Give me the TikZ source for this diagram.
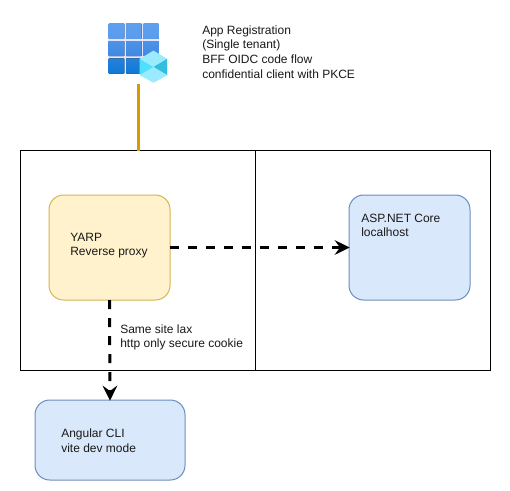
\documentclass[tikz,border=0pt]{standalone}
\usepackage{fontspec}
\setmainfont{Liberation Sans}
\usetikzlibrary{arrows.meta}
\definecolor{bluefill}{HTML}{DAE8FC}
\definecolor{blueline}{HTML}{6C8EBF}
\definecolor{yellowfill}{HTML}{FFF2CC}
\definecolor{yellowline}{HTML}{D6B656}
\definecolor{orangeline}{HTML}{D79B00}
\tikzset{
  x=0.75pt,y=-0.75pt,
  frame/.style={draw=black,line width=0.75pt,minimum width=176.25pt,minimum height=165pt,inner sep=0pt,outer sep=0pt},
  bluebox/.style={draw=blueline,fill=bluefill,line width=0.75pt,rounded corners=11pt,inner sep=0pt,outer sep=0pt},
  yellowbox/.style={draw=yellowline,fill=yellowfill,line width=0.75pt,rounded corners=11pt,inner sep=0pt,outer sep=0pt},
  label/.style={font=\fontsize{9}{11}\selectfont,align=left,anchor=west,inner sep=0pt,text=black!90},
  flow/.style={draw=black,line width=2.25pt,dash pattern=on 6.75pt off 6.75pt,-{Stealth[length=11.25pt,width=11pt,inset=4pt,sep=0pt]},shorten >=-0.5pt},
  tile/.style={rounded corners=0.4pt}
}
\begin{document}
\begin{tikzpicture}
\useasboundingbox (0,0) rectangle (510,490);
\fill[white] (0,0) rectangle (510,490);
% icon
\fill[blue!10,rounded corners=2pt] (108,23) rectangle (158.5,73.5);
\foreach \r/\ct/\cb in {0/5EA0EF/5A9CEB,1/4D93E8/3F89E2,2/2481DD/0F78D4}{
  \definecolor{ct}{HTML}{\ct}\definecolor{cb}{HTML}{\cb}
  \foreach \c in {0,1,2}{
    \fill[tile,top color=ct,bottom color=cb] ({108.7+17.3*\c},{23.7+17.3*\r}) rectangle ({108.7+17.3*\c+15.6},{23.7+17.3*\r+15.2});
  }
}
\fill[white,opacity=.6] (153.5,50.5) -- (167.5,59) -- (167.5,75) -- (153.5,83) -- (139.5,75) -- (139.5,59) -- cycle;
\fill[color={rgb,255:red,80;green,224;blue,255}] (153.5,51) -- (167,59) -- (167,75) -- (153.5,82.5) -- (140,75) -- (140,59) -- cycle;
\fill[color={rgb,255:red,155;green,235;blue,255}] (153.5,51) -- (167,59) -- (153.5,67) -- (140,59) -- cycle;
\fill[color={rgb,255:red,50;green,190;blue,221}] (167,59) -- (167,75) -- (153.5,67) -- cycle;
\fill[color={rgb,255:red,155;green,235;blue,255}] (153.5,67) -- (167,75) -- (153.5,82.5) -- (140,75) -- cycle;
\coordinate (iconfoot) at (138,84);
% frames
\node[frame] (left) at (138,260.7) {};
\node[frame] (right) at (373,260.7) {};
\draw[orangeline,line width=2.25pt] (iconfoot) -- (left.north -| iconfoot);
% boxes
\node[yellowbox,minimum width=90.75pt,minimum height=78.75pt] (yarp) at (109.5,247.5) {};
\node[bluebox,minimum width=90.75pt,minimum height=78.75pt] (asp) at (409.5,247.5) {};
\node[bluebox,minimum width=112.5pt,minimum height=60pt] (ng) at (110,440) {};
% connectors
\draw[flow] (yarp.east) -- (asp.west);
\draw[flow] (yarp.south) -- (ng.north);
% text
\node[label] (t1) at (202,52) {App Registration\\(Single tenant)\\BFF OIDC code flow\\confidential client with PKCE};
\node[label] (t2) at (70,245.5) {YARP\\Reverse proxy};
\node[label] (t3) at (361,225.5) {ASP.NET Core\\localhost};
\node[label] (t4) at (120,337.5) {Same site lax\\http only secure cookie};
\node[label] (t5) at (61,440.5) {Angular CLI\\vite dev mode};
\end{tikzpicture}
\end{document}
